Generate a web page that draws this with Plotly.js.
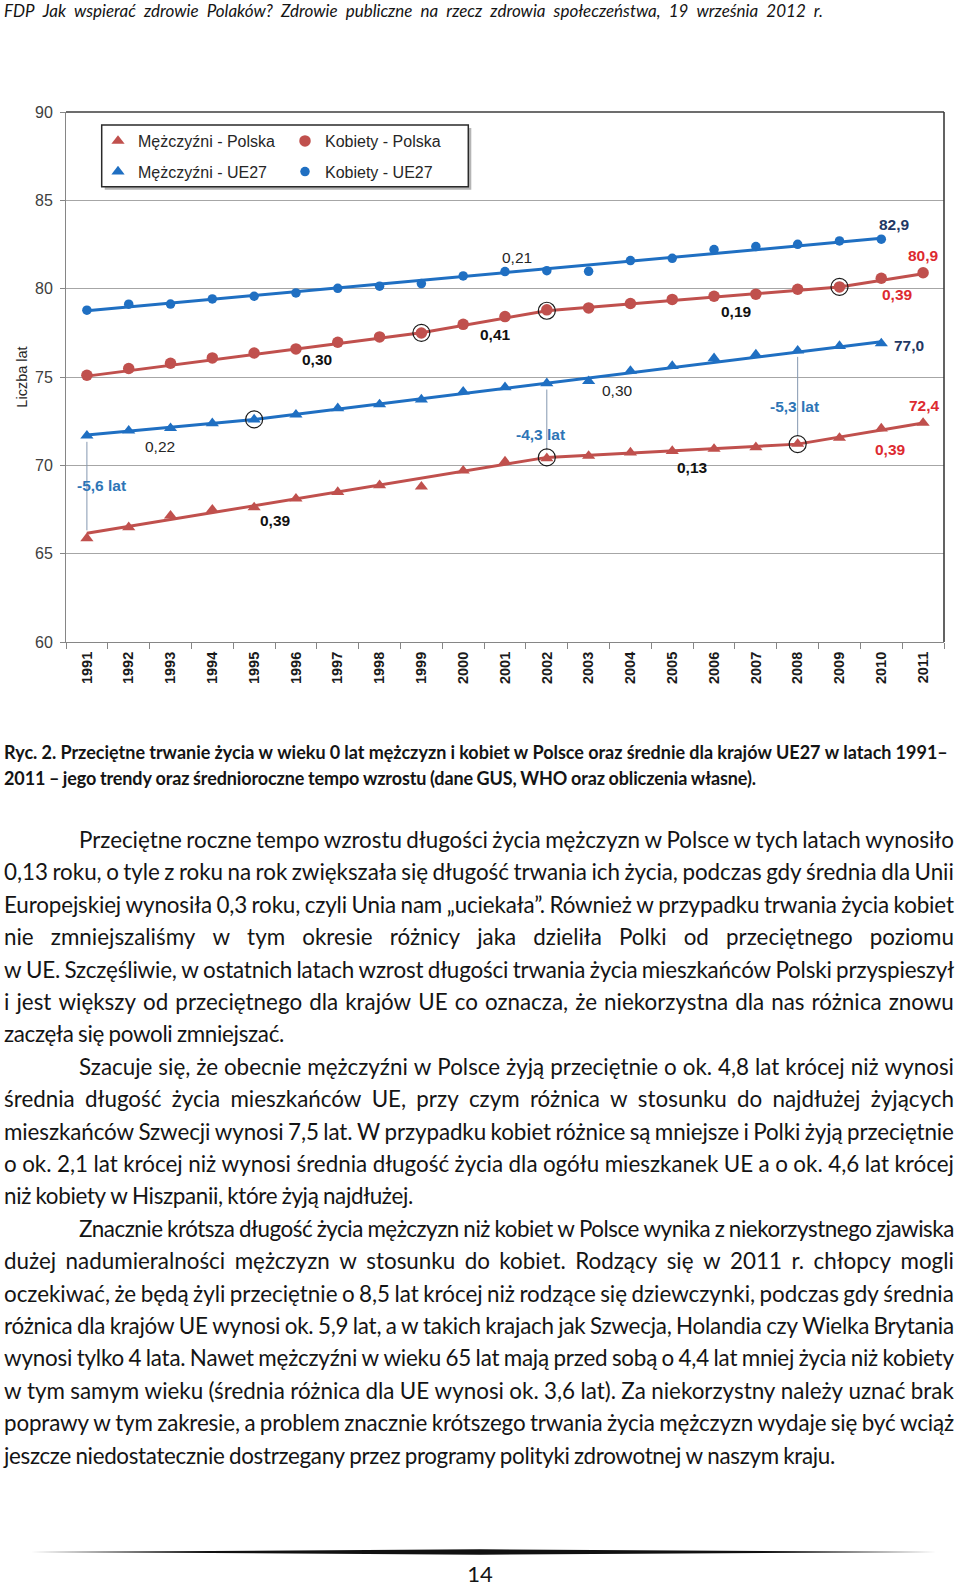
<!DOCTYPE html>
<html><head><meta charset="utf-8">
<script src="https://cdn.plot.ly/plotly-3.0.1.min.js"></script>
<style>
html,body{margin:0;padding:0;background:#fff;}
body{width:960px;height:1585px;position:relative;overflow:hidden;font-family:Lato,'Open Sans',sans-serif;color:#141414;}
#chart{position:absolute;left:0;top:0;width:960px;height:700px;}
.ln{position:absolute;display:flex;justify-content:space-between;white-space:nowrap;}
.ln span{display:inline-block;}
.hdr{font-size:17px;font-style:italic;line-height:22px;height:22px;z-index:5;}
.cap{font-size:18px;font-weight:bold;line-height:26px;height:26px;}
.txt{font-size:22.4px;line-height:32.35px;height:32.35px;}
.pg{position:absolute;left:0;width:960px;text-align:center;font-size:22px;line-height:26px;}
#sep{position:absolute;left:0;top:0;}
</style>
</head><body>
<div id="chart"></div>
<svg id="sep" width="960" height="1585"><polygon points="31,1552 480,1549.3 936,1552 480,1554.7" fill="#111"/></svg>
<div class="pg" style="top:1561px;">14</div>
<script>
// ---------- DATA ----------
const years = ['1991','1992','1993','1994','1995','1996','1997','1998','1999','2000','2001','2002','2003','2004','2005','2006','2007','2008','2009','2010','2011'];
const mezczyzniPL = [65.87,66.49,67.15,67.49,67.62,68.11,68.49,68.87,68.79,69.70,70.21,70.40,70.53,70.72,70.81,70.93,71.02,71.21,71.55,72.08,72.40];
const kobietyPL   = [75.10,75.48,75.78,76.08,76.36,76.59,76.97,77.27,77.49,77.98,78.42,78.80,78.91,79.16,79.39,79.57,79.69,79.97,80.10,80.59,80.90];
const yearsUE = years.slice(0,20);
const mezczyzniUE = [71.68,71.96,72.10,72.38,72.59,72.87,73.23,73.45,73.72,74.17,74.42,74.64,74.76,75.34,75.62,76.06,76.27,76.49,76.75,76.90];
const kobietyUE   = [78.78,79.12,79.13,79.42,79.57,79.76,80.02,80.14,80.29,80.72,80.97,81.02,80.98,81.59,81.72,82.21,82.38,82.51,82.70,82.80];
// trend segments (breakpoints)
const trendMezPLYears = ['1991','2002','2008','2011'];
const trendMezPL      = [66.15,70.45,71.20,72.40];
const trendKobPLYears = ['1991','1999','2002','2009','2011'];
const trendKobPL      = [75.05,77.50,78.75,80.10,80.85];
const trendMezUEYears = ['1991','1995','2010'];
const trendMezUE      = [71.72,72.60,77.00];
const trendKobUEYears = ['1991','2010'];
const trendKobUE      = [78.75,82.85];
// years where the gap between men PL and men UE27 is marked
const gapYears = ['1991','2002','2008'];
const legendNames = ['Mężczyźni - Polska','Kobiety - Polska','Mężczyźni - UE27','Kobiety - UE27'];

// ---------- CHART ----------
const BLUE='#1f6fc2', RED='#c0504d';
function trend(x,y,c){return {x:x,y:y,type:'scatter',mode:'lines',line:{color:c,width:3},showlegend:false,hoverinfo:'skip'};}
const traces=[trend(trendKobUEYears,trendKobUE,BLUE),trend(trendMezUEYears,trendMezUE,BLUE),trend(trendKobPLYears,trendKobPL,RED),trend(trendMezPLYears,trendMezPL,RED)];
gapYears.forEach(function(yr){
  const i=years.indexOf(yr);
  traces.push({x:[yr,yr],y:[mezczyzniUE[i]-0.35,mezczyzniPL[i]+0.45],type:'scatter',mode:'lines',line:{color:'#8497b0',width:1},showlegend:false,hoverinfo:'skip'});
});
traces.push({name:legendNames[0],x:years,y:mezczyzniPL,type:'scatter',mode:'markers',marker:{symbol:'triangle-up',size:11.5,color:RED},legend:'legend'});
traces.push({name:legendNames[1],x:years,y:kobietyPL,type:'scatter',mode:'markers',marker:{symbol:'circle',size:11.5,color:RED},legend:'legend2'});
traces.push({name:legendNames[2],x:yearsUE,y:mezczyzniUE,type:'scatter',mode:'markers',marker:{symbol:'triangle-up',size:11.5,color:BLUE},legend:'legend3'});
traces.push({name:legendNames[3],x:yearsUE,y:kobietyUE,type:'scatter',mode:'markers',marker:{symbol:'circle',size:9.5,color:BLUE},legend:'legend4'});
// open circles at interior trend breakpoints
const cx=[],cy=[];
[[trendMezUEYears,trendMezUE],[trendKobPLYears,trendKobPL],[trendMezPLYears,trendMezPL]].forEach(function(t){
  for(let k=1;k<t[0].length-1;k++){cx.push(t[0][k]);cy.push(t[1][k]);}
});
traces.push({x:cx,y:cy,type:'scatter',mode:'markers',marker:{symbol:'circle-open',size:17,color:'#1a1a1a',line:{width:1.2,color:'#1a1a1a'}},showlegend:false,hoverinfo:'skip'});

function ann(t,x,y,color,bold){return {text:t,x:x,y:y,xref:'x',yref:'y',showarrow:false,xanchor:'center',yanchor:'middle',font:{size:15.5,color:color,weight:bold?'bold':'normal',family:'Liberation Sans, Arial, sans-serif'}};}
const K='#262626', NAVY='#1f3864', LRED='#dd2a30', LBLUE='#2e75b6';
const annotations=[
  ann('0,21',10.28,81.79,K,false),
  ann('0,30',5.50,75.99,'#111',true),
  ann('0,41',9.78,77.42,'#111',true),
  ann('0,19',15.53,78.70,'#111',true),
  ann('0,39',19.39,79.68,LRED,true),
  ann('82,9',19.32,83.63,NAVY,true),
  ann('80,9',20.01,81.87,LRED,true),
  ann('77,0',19.67,76.80,NAVY,true),
  ann('72,4',20.03,73.36,LRED,true),
  ann('0,39',19.23,70.89,LRED,true),
  ann('0,30',12.70,74.25,K,false),
  ann('-4,3 lat',10.86,71.76,LBLUE,true),
  ann('-5,3 lat',16.93,73.33,LBLUE,true),
  ann('0,13',14.49,69.88,'#111',true),
  ann('0,22',1.76,71.08,K,false),
  ann('-5,6 lat',0.345,68.87,LBLUE,true),
  ann('0,39',4.52,66.88,'#111',true)
];
const L=66,T=112,PW=878,PH=530;
function px(v){return (v-L)/PW;} function py(v){return (T+PH-v)/PH;}
const legBase={bgcolor:'rgba(0,0,0,0)',borderwidth:0,font:{size:16,color:'#262626',family:'Liberation Sans, Arial, sans-serif'},xanchor:'left',yanchor:'middle',itemclick:false,itemdoubleclick:false};
const layout={
  width:960,height:700,margin:{l:L,r:960-L-PW,t:T,b:700-T-PH},
  paper_bgcolor:'rgba(0,0,0,0)',plot_bgcolor:'#fff',
  font:{family:'Liberation Sans, Arial, sans-serif',color:'#262626'},
  xaxis:{type:'category',categoryorder:'array',categoryarray:years,range:[-0.5,20.5],tickson:'boundaries',ticks:'outside',ticklen:6,tickcolor:'#868686',showline:true,linecolor:'#868686',linewidth:1,showgrid:false,zeroline:false,tickangle:-90,ticklabelstandoff:3,tickfont:{size:14.5,weight:'bold',color:'#1a1a1a'},fixedrange:true,automargin:false},
  yaxis:{range:[60,90],tick0:60,dtick:5,ticks:'outside',ticklen:5,tickcolor:'#868686',showline:true,linecolor:'#868686',linewidth:1,gridcolor:'#a6a6a6',gridwidth:1,zeroline:false,ticklabelstandoff:4,tickfont:{size:16,color:'#404040'},title:{text:'Liczba lat',font:{size:14.5,color:'#262626'},standoff:3},fixedrange:true,automargin:false},
  legend: Object.assign({},legBase,{x:px(98),y:py(141)}),
  legend2:Object.assign({},legBase,{x:px(285),y:py(141)}),
  legend3:Object.assign({},legBase,{x:px(98),y:py(171.7)}),
  legend4:Object.assign({},legBase,{x:px(285),y:py(171.7)}),
  shapes:[
    {type:'line',xref:'paper',yref:'paper',x0:0,x1:1,y0:1,y1:1,line:{color:'#3c3c3c',width:1.6}},
    {type:'line',xref:'paper',yref:'paper',x0:1,x1:1,y0:0,y1:1,line:{color:'#3c3c3c',width:1.6}},
    {type:'rect',xref:'paper',yref:'paper',x0:px(104.7),x1:px(471.3),y0:py(189.7),y1:py(128),fillcolor:'#b5b5b5',line:{width:0}},
    {type:'rect',xref:'paper',yref:'paper',x0:px(101.7),x1:px(468.3),y0:py(186.7),y1:py(125),fillcolor:'#ffffff',line:{color:'#2a2a2a',width:1.5}}
  ],
  annotations:annotations,
  showlegend:true
};
Plotly.newPlot('chart',traces,layout,{displayModeBar:false,staticPlot:true});

// ---------- TEXT ----------
const header='FDP Jak wspierać zdrowie Polaków? Zdrowie publiczne na rzecz zdrowia społeczeństwa, 19 września 2012 r.';
const caption=['Ryc. 2. Przeciętne trwanie życia w wieku 0 lat mężczyzn i kobiet w Polsce oraz średnie dla krajów UE27 w latach 1991–',
'2011 – jego trendy oraz średnioroczne tempo wzrostu (dane GUS, WHO oraz obliczenia własne).'];
const paragraphs=[
['Przeciętne roczne tempo wzrostu długości życia mężczyzn w Polsce w tych latach wynosiło',
'0,13 roku, o tyle z roku na rok zwiększała się długość trwania ich życia, podczas gdy średnia dla Unii',
'Europejskiej wynosiła 0,3 roku, czyli Unia nam „uciekała”. Również w przypadku trwania życia kobiet',
'nie zmniejszaliśmy w tym okresie różnicy jaka dzieliła Polki od przeciętnego poziomu',
'w UE. Szczęśliwie, w ostatnich latach wzrost długości trwania życia mieszkańców Polski przyspieszył',
'i jest większy od przeciętnego dla krajów UE co oznacza, że niekorzystna dla nas różnica znowu',
'zaczęła się powoli zmniejszać.'],
['Szacuje się, że obecnie mężczyźni w Polsce żyją przeciętnie o ok. 4,8 lat krócej niż wynosi',
'średnia długość życia mieszkańców UE, przy czym różnica w stosunku do najdłużej żyjących',
'mieszkańców Szwecji wynosi 7,5 lat. W przypadku kobiet różnice są mniejsze i Polki żyją przeciętnie',
'o ok. 2,1 lat krócej niż wynosi średnia długość życia dla ogółu mieszkanek UE a o ok. 4,6 lat krócej',
'niż kobiety w Hiszpanii, które żyją najdłużej.'],
['Znacznie krótsza długość życia mężczyzn niż kobiet w Polsce wynika z niekorzystnego zjawiska',
'dużej nadumieralności mężczyzn w stosunku do kobiet. Rodzący się w 2011 r. chłopcy mogli',
'oczekiwać, że będą żyli przeciętnie o 8,5 lat krócej niż rodzące się dziewczynki, podczas gdy średnia',
'różnica dla krajów UE wynosi ok. 5,9 lat, a w takich krajach jak Szwecja, Holandia czy Wielka Brytania',
'wynosi tylko 4 lata. Nawet mężczyźni w wieku 65 lat mają przed sobą o 4,4 lat mniej życia niż kobiety',
'w tym samym wieku (średnia różnica dla UE wynosi ok. 3,6 lat). Za niekorzystny należy uznać brak',
'poprawy w tym zakresie, a problem znacznie krótszego trwania życia mężczyzn wydaje się być wciąż',
'jeszcze niedostatecznie dostrzegany przez programy polityki zdrowotnej w naszym kraju.']
];
const lastLineEnds=[284,413,835];

function addLine(text,left,top,width,cls){
  const d=document.createElement('div');d.className='ln '+cls;
  d.style.left=left+'px';d.style.top=top+'px';d.style.width=width+'px';
  text.split(' ').forEach(function(w){const s=document.createElement('span');s.textContent=w;d.appendChild(s);});
  document.body.appendChild(d);
  let sum=0;Array.prototype.forEach.call(d.children,function(s){sum+=s.getBoundingClientRect().width;});
  const fs=parseFloat(getComputedStyle(d).fontSize);const gaps=d.children.length-1;
  const need=sum+gaps*fs*0.2;
  if(need>width){const chars=text.replace(/ /g,'').length;d.style.letterSpacing=((width-need)/chars)+'px';}
}
addLine(header,4,0,819,'hdr');
addLine(caption[0],4,739,944,'cap');
addLine(caption[1],4,765,752,'cap');
let li=0;const TOP0=824,STEP=32.4,LEFT=4,RIGHT=954,IND=79;
paragraphs.forEach(function(p,pi){
  p.forEach(function(t,k){
    const left=k===0?IND:LEFT;
    const right=(k===p.length-1)?lastLineEnds[pi]:RIGHT;
    addLine(t,left,TOP0+li*STEP,right-left,'txt');
    li++;
  });
});
</script>
</body></html>
